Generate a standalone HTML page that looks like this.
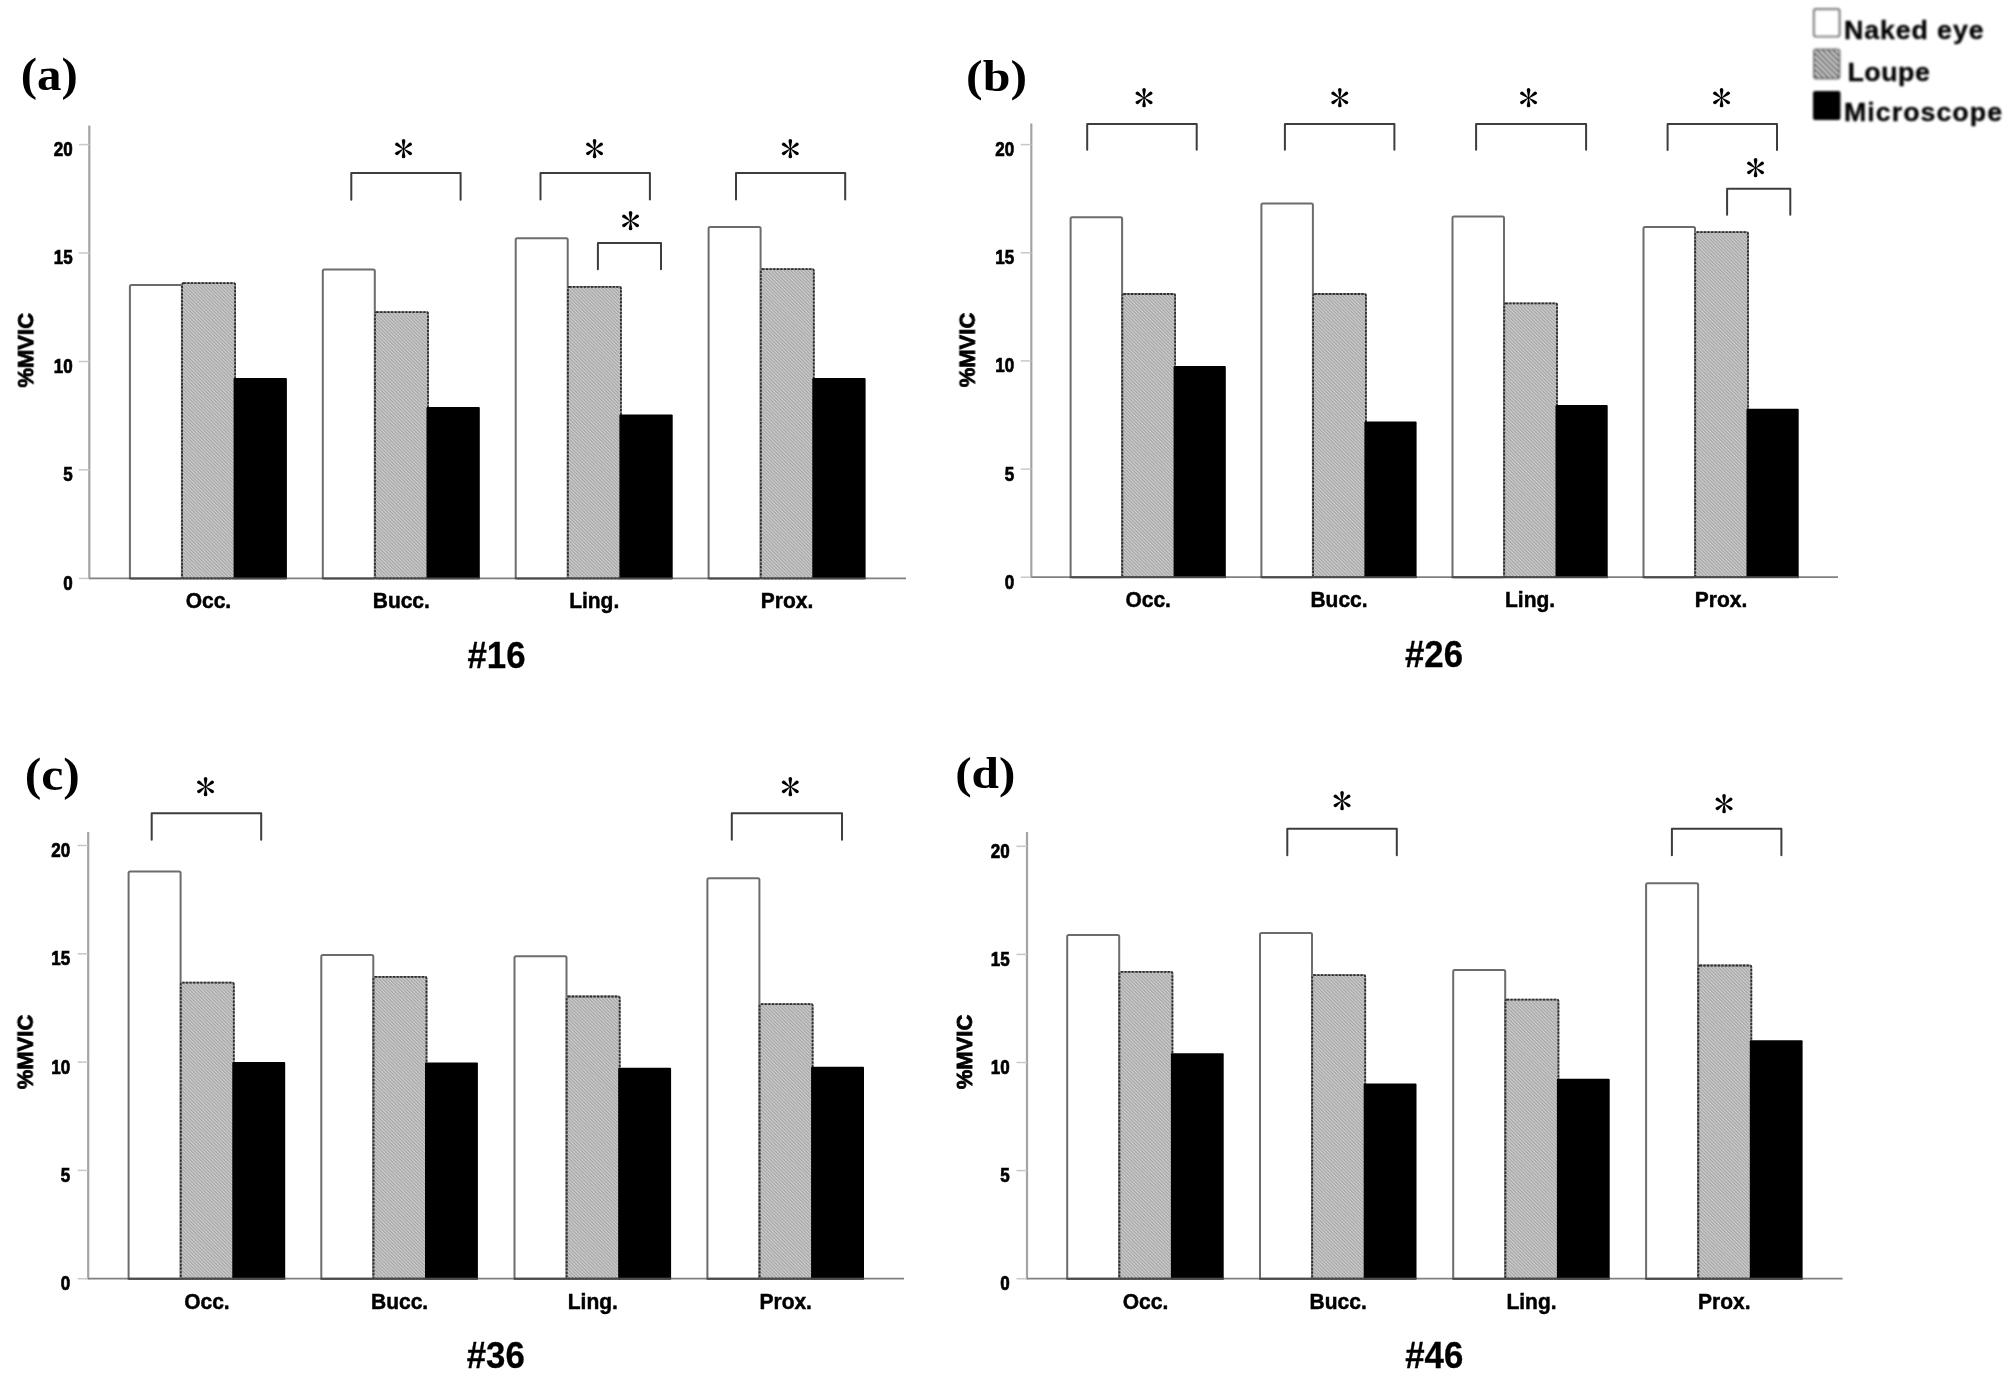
<!DOCTYPE html>
<html lang="en"><head><meta charset="utf-8"><title>%MVIC by magnification</title>
<style>
html,body{margin:0;padding:0;background:#fff;}
body{width:2007px;height:1388px;overflow:hidden;}
svg{display:block;}
.sans{font-family:"Liberation Sans",Arial,Helvetica,sans-serif;font-weight:bold;fill:#000;}
.serif{font-family:"Liberation Serif","Times New Roman",Times,serif;fill:#000;}
.ast{font-family:IPAGothic,"Liberation Serif",serif;fill:#000;}
</style></head><body>
<svg width="2007" height="1388" viewBox="0 0 2007 1388">
<defs>
<filter id="bl" x="-2%" y="-2%" width="104%" height="104%"><feGaussianBlur stdDeviation="0.7"/></filter>
<filter id="blt" x="-2%" y="-2%" width="104%" height="104%"><feGaussianBlur stdDeviation="0.55"/></filter>
<filter id="bl2" x="-5%" y="-5%" width="110%" height="110%"><feGaussianBlur stdDeviation="0.9"/></filter>
<filter id="bl4" x="-10%" y="-10%" width="120%" height="120%"><feGaussianBlur stdDeviation="0.7"/></filter>
<filter id="bl3" x="-10%" y="-10%" width="120%" height="120%"><feGaussianBlur stdDeviation="0.55"/></filter>
<pattern id="hatch" width="2.4" height="2.4" patternUnits="userSpaceOnUse" patternTransform="rotate(45)">
<rect width="2.4" height="2.4" fill="#a8a8a8"/><rect width="2.4" height="1" fill="#d2d2d2"/>
</pattern>
<pattern id="hatchL" width="3.8" height="3.8" patternUnits="userSpaceOnUse" patternTransform="rotate(45)">
<rect width="3.8" height="3.8" fill="#e6e6e6"/><rect width="3.8" height="1.8" fill="#303030"/>
</pattern>
</defs>
<rect width="2007" height="1388" fill="#fff"/>

<g filter="url(#bl)">
<line x1="89.3" y1="125.5" x2="89.3" y2="579.3" stroke="#a4a4a4" stroke-width="2.2"/>
<line x1="78.8" y1="578.4" x2="89.3" y2="578.4" stroke="#c8c8c8" stroke-width="1.5"/>
<line x1="78.8" y1="469.9" x2="89.3" y2="469.9" stroke="#c8c8c8" stroke-width="1.5"/>
<line x1="78.8" y1="361.5" x2="89.3" y2="361.5" stroke="#c8c8c8" stroke-width="1.5"/>
<line x1="78.8" y1="253.0" x2="89.3" y2="253.0" stroke="#c8c8c8" stroke-width="1.5"/>
<line x1="78.8" y1="144.6" x2="89.3" y2="144.6" stroke="#c8c8c8" stroke-width="1.5"/>
<line x1="89.3" y1="578.4" x2="906.0" y2="578.4" stroke="#808080" stroke-width="1.7"/>
<rect x="129.9" y="285.1" width="52.0" height="293.3" fill="#fff" stroke="#6c6c6c" stroke-width="2" rx="1.5"/>
<rect x="182.1" y="283.1" width="53.0" height="295.3" fill="url(#hatch)" stroke="#8a8a8a" stroke-width="1.8" rx="1.5"/>
<rect x="182.1" y="283.1" width="53.0" height="295.3" fill="none" stroke="#2e2e2e" stroke-width="1.8" stroke-dasharray="2.2 1.4" rx="1.5"/>
<rect x="233.6" y="378.1" width="53.3" height="201.2" fill="#000" rx="1"/>
<rect x="322.8" y="269.5" width="52.0" height="308.9" fill="#fff" stroke="#6c6c6c" stroke-width="2" rx="1.5"/>
<rect x="375.0" y="312.1" width="53.0" height="266.3" fill="url(#hatch)" stroke="#8a8a8a" stroke-width="1.8" rx="1.5"/>
<rect x="375.0" y="312.1" width="53.0" height="266.3" fill="none" stroke="#2e2e2e" stroke-width="1.8" stroke-dasharray="2.2 1.4" rx="1.5"/>
<rect x="426.5" y="406.9" width="53.3" height="172.4" fill="#000" rx="1"/>
<rect x="515.7" y="238.3" width="52.0" height="340.1" fill="#fff" stroke="#6c6c6c" stroke-width="2" rx="1.5"/>
<rect x="567.9" y="286.9" width="53.0" height="291.5" fill="url(#hatch)" stroke="#8a8a8a" stroke-width="1.8" rx="1.5"/>
<rect x="567.9" y="286.9" width="53.0" height="291.5" fill="none" stroke="#2e2e2e" stroke-width="1.8" stroke-dasharray="2.2 1.4" rx="1.5"/>
<rect x="619.4" y="414.4" width="53.3" height="164.9" fill="#000" rx="1"/>
<rect x="708.6" y="227.1" width="52.0" height="351.3" fill="#fff" stroke="#6c6c6c" stroke-width="2" rx="1.5"/>
<rect x="760.8" y="269.2" width="53.0" height="309.2" fill="url(#hatch)" stroke="#8a8a8a" stroke-width="1.8" rx="1.5"/>
<rect x="760.8" y="269.2" width="53.0" height="309.2" fill="none" stroke="#2e2e2e" stroke-width="1.8" stroke-dasharray="2.2 1.4" rx="1.5"/>
<rect x="812.3" y="378.0" width="53.3" height="201.3" fill="#000" rx="1"/>
<line x1="129.0" y1="578.4" x2="286.9" y2="578.4" stroke="#4a4a4a" stroke-width="1.9"/>
<line x1="321.9" y1="578.4" x2="479.8" y2="578.4" stroke="#4a4a4a" stroke-width="1.9"/>
<line x1="514.8" y1="578.4" x2="672.7" y2="578.4" stroke="#4a4a4a" stroke-width="1.9"/>
<line x1="707.7" y1="578.4" x2="865.6" y2="578.4" stroke="#4a4a4a" stroke-width="1.9"/>
</g><g filter="url(#blt)">
<text class="sans" transform="translate(72.7,589.8) scale(1,1.17)" font-size="17" text-anchor="end" stroke="#000" stroke-width="0.6">0</text>
<text class="sans" transform="translate(72.7,481.3) scale(1,1.17)" font-size="17" text-anchor="end" stroke="#000" stroke-width="0.6">5</text>
<text class="sans" transform="translate(72.7,372.9) scale(1,1.17)" font-size="17" text-anchor="end" stroke="#000" stroke-width="0.6">10</text>
<text class="sans" transform="translate(72.7,264.4) scale(1,1.17)" font-size="17" text-anchor="end" stroke="#000" stroke-width="0.6">15</text>
<text class="sans" transform="translate(72.7,156.0) scale(1,1.17)" font-size="17" text-anchor="end" stroke="#000" stroke-width="0.6">20</text>
<text class="sans" transform="translate(208.4,608.1) scale(1,1.07)" font-size="21" text-anchor="middle" stroke="#000" stroke-width="0.45">Occ.</text>
<text class="sans" transform="translate(401.3,608.1) scale(1,1.07)" font-size="21" text-anchor="middle" stroke="#000" stroke-width="0.45">Bucc.</text>
<text class="sans" transform="translate(594.2,608.1) scale(1,1.07)" font-size="21" text-anchor="middle" stroke="#000" stroke-width="0.45">Ling.</text>
<text class="sans" transform="translate(787.1,608.1) scale(1,1.07)" font-size="21" text-anchor="middle" stroke="#000" stroke-width="0.45">Prox.</text>
<text class="sans" transform="translate(33.2,350.3) rotate(-90)" font-size="22" text-anchor="middle" stroke="#000" stroke-width="0.8">%MVIC</text>
</g>
<text class="serif" filter="url(#bl3)" transform="translate(20.76,89.76) scale(1.043,1.005)" font-size="47" font-weight="bold">(a)</text>
<text class="sans" filter="url(#bl4)" transform="translate(496.5,668.4) scale(1,1.06)" font-size="34.8" text-anchor="middle" stroke="#000" stroke-width="0.3">#16</text>
<g filter="url(#bl)">
<line x1="1031.3" y1="123.5" x2="1031.3" y2="578.1" stroke="#a4a4a4" stroke-width="2.2"/>
<line x1="1020.8" y1="577.2" x2="1031.3" y2="577.2" stroke="#c8c8c8" stroke-width="1.5"/>
<line x1="1020.8" y1="469.1" x2="1031.3" y2="469.1" stroke="#c8c8c8" stroke-width="1.5"/>
<line x1="1020.8" y1="360.9" x2="1031.3" y2="360.9" stroke="#c8c8c8" stroke-width="1.5"/>
<line x1="1020.8" y1="252.8" x2="1031.3" y2="252.8" stroke="#c8c8c8" stroke-width="1.5"/>
<line x1="1020.8" y1="144.6" x2="1031.3" y2="144.6" stroke="#c8c8c8" stroke-width="1.5"/>
<line x1="1031.3" y1="577.2" x2="1838.0" y2="577.2" stroke="#808080" stroke-width="1.7"/>
<rect x="1070.6" y="217.3" width="51.5" height="359.9" fill="#fff" stroke="#6c6c6c" stroke-width="2" rx="1.5"/>
<rect x="1122.3" y="294.0" width="52.8" height="283.2" fill="url(#hatch)" stroke="#8a8a8a" stroke-width="1.8" rx="1.5"/>
<rect x="1122.3" y="294.0" width="52.8" height="283.2" fill="none" stroke="#2e2e2e" stroke-width="1.8" stroke-dasharray="2.2 1.4" rx="1.5"/>
<rect x="1173.6" y="365.9" width="52.2" height="212.2" fill="#000" rx="1"/>
<rect x="1261.4" y="203.4" width="51.5" height="373.8" fill="#fff" stroke="#6c6c6c" stroke-width="2" rx="1.5"/>
<rect x="1313.1" y="294.0" width="52.8" height="283.2" fill="url(#hatch)" stroke="#8a8a8a" stroke-width="1.8" rx="1.5"/>
<rect x="1313.1" y="294.0" width="52.8" height="283.2" fill="none" stroke="#2e2e2e" stroke-width="1.8" stroke-dasharray="2.2 1.4" rx="1.5"/>
<rect x="1364.4" y="421.4" width="52.2" height="156.7" fill="#000" rx="1"/>
<rect x="1452.5" y="216.5" width="51.5" height="360.7" fill="#fff" stroke="#6c6c6c" stroke-width="2" rx="1.5"/>
<rect x="1504.2" y="303.3" width="52.8" height="273.9" fill="url(#hatch)" stroke="#8a8a8a" stroke-width="1.8" rx="1.5"/>
<rect x="1504.2" y="303.3" width="52.8" height="273.9" fill="none" stroke="#2e2e2e" stroke-width="1.8" stroke-dasharray="2.2 1.4" rx="1.5"/>
<rect x="1555.5" y="405.0" width="52.2" height="173.1" fill="#000" rx="1"/>
<rect x="1643.5" y="227.1" width="51.5" height="350.1" fill="#fff" stroke="#6c6c6c" stroke-width="2" rx="1.5"/>
<rect x="1695.2" y="232.2" width="52.8" height="345.0" fill="url(#hatch)" stroke="#8a8a8a" stroke-width="1.8" rx="1.5"/>
<rect x="1695.2" y="232.2" width="52.8" height="345.0" fill="none" stroke="#2e2e2e" stroke-width="1.8" stroke-dasharray="2.2 1.4" rx="1.5"/>
<rect x="1746.5" y="408.7" width="52.2" height="169.4" fill="#000" rx="1"/>
<line x1="1069.7" y1="577.2" x2="1225.8" y2="577.2" stroke="#4a4a4a" stroke-width="1.9"/>
<line x1="1260.5" y1="577.2" x2="1416.6" y2="577.2" stroke="#4a4a4a" stroke-width="1.9"/>
<line x1="1451.6" y1="577.2" x2="1607.7" y2="577.2" stroke="#4a4a4a" stroke-width="1.9"/>
<line x1="1642.6" y1="577.2" x2="1798.7" y2="577.2" stroke="#4a4a4a" stroke-width="1.9"/>
</g><g filter="url(#blt)">
<text class="sans" transform="translate(1014.2,588.6) scale(1,1.17)" font-size="17" text-anchor="end" stroke="#000" stroke-width="0.6">0</text>
<text class="sans" transform="translate(1014.2,480.5) scale(1,1.17)" font-size="17" text-anchor="end" stroke="#000" stroke-width="0.6">5</text>
<text class="sans" transform="translate(1014.2,372.3) scale(1,1.17)" font-size="17" text-anchor="end" stroke="#000" stroke-width="0.6">10</text>
<text class="sans" transform="translate(1014.2,264.1) scale(1,1.17)" font-size="17" text-anchor="end" stroke="#000" stroke-width="0.6">15</text>
<text class="sans" transform="translate(1014.2,156.0) scale(1,1.17)" font-size="17" text-anchor="end" stroke="#000" stroke-width="0.6">20</text>
<text class="sans" transform="translate(1148.2,606.9) scale(1,1.07)" font-size="21" text-anchor="middle" stroke="#000" stroke-width="0.45">Occ.</text>
<text class="sans" transform="translate(1339.0,606.9) scale(1,1.07)" font-size="21" text-anchor="middle" stroke="#000" stroke-width="0.45">Bucc.</text>
<text class="sans" transform="translate(1530.1,606.9) scale(1,1.07)" font-size="21" text-anchor="middle" stroke="#000" stroke-width="0.45">Ling.</text>
<text class="sans" transform="translate(1721.1,606.9) scale(1,1.07)" font-size="21" text-anchor="middle" stroke="#000" stroke-width="0.45">Prox.</text>
<text class="sans" transform="translate(974.7,350) rotate(-90)" font-size="22" text-anchor="middle" stroke="#000" stroke-width="0.8">%MVIC</text>
</g>
<text class="serif" filter="url(#bl3)" transform="translate(966.1,91.16) scale(1.06,0.955)" font-size="47" font-weight="bold">(b)</text>
<text class="sans" filter="url(#bl4)" transform="translate(1434.0,666.9) scale(1,1.06)" font-size="34.8" text-anchor="middle" stroke="#000" stroke-width="0.3">#26</text>
<g filter="url(#bl)">
<line x1="88.2" y1="832.0" x2="88.2" y2="1279.6000000000001" stroke="#a4a4a4" stroke-width="2.2"/>
<line x1="77.7" y1="1278.7" x2="88.2" y2="1278.7" stroke="#c8c8c8" stroke-width="1.5"/>
<line x1="77.7" y1="1170.4" x2="88.2" y2="1170.4" stroke="#c8c8c8" stroke-width="1.5"/>
<line x1="77.7" y1="1062.1" x2="88.2" y2="1062.1" stroke="#c8c8c8" stroke-width="1.5"/>
<line x1="77.7" y1="953.8" x2="88.2" y2="953.8" stroke="#c8c8c8" stroke-width="1.5"/>
<line x1="77.7" y1="845.5" x2="88.2" y2="845.5" stroke="#c8c8c8" stroke-width="1.5"/>
<line x1="88.2" y1="1278.7" x2="904.0" y2="1278.7" stroke="#808080" stroke-width="1.7"/>
<rect x="128.6" y="871.6" width="52.0" height="407.1" fill="#fff" stroke="#6c6c6c" stroke-width="2" rx="1.5"/>
<rect x="180.8" y="982.7" width="53.0" height="296.0" fill="url(#hatch)" stroke="#8a8a8a" stroke-width="1.8" rx="1.5"/>
<rect x="180.8" y="982.7" width="53.0" height="296.0" fill="none" stroke="#2e2e2e" stroke-width="1.8" stroke-dasharray="2.2 1.4" rx="1.5"/>
<rect x="232.3" y="1062.1" width="52.9" height="217.5" fill="#000" rx="1"/>
<rect x="321.3" y="955.1" width="52.0" height="323.6" fill="#fff" stroke="#6c6c6c" stroke-width="2" rx="1.5"/>
<rect x="373.5" y="976.9" width="53.0" height="301.8" fill="url(#hatch)" stroke="#8a8a8a" stroke-width="1.8" rx="1.5"/>
<rect x="373.5" y="976.9" width="53.0" height="301.8" fill="none" stroke="#2e2e2e" stroke-width="1.8" stroke-dasharray="2.2 1.4" rx="1.5"/>
<rect x="425.0" y="1062.6" width="52.9" height="217.0" fill="#000" rx="1"/>
<rect x="514.5" y="956.3" width="52.0" height="322.4" fill="#fff" stroke="#6c6c6c" stroke-width="2" rx="1.5"/>
<rect x="566.7" y="996.5" width="53.0" height="282.2" fill="url(#hatch)" stroke="#8a8a8a" stroke-width="1.8" rx="1.5"/>
<rect x="566.7" y="996.5" width="53.0" height="282.2" fill="none" stroke="#2e2e2e" stroke-width="1.8" stroke-dasharray="2.2 1.4" rx="1.5"/>
<rect x="618.2" y="1067.7" width="52.9" height="211.9" fill="#000" rx="1"/>
<rect x="707.4" y="878.2" width="52.0" height="400.5" fill="#fff" stroke="#6c6c6c" stroke-width="2" rx="1.5"/>
<rect x="759.6" y="1004.1" width="53.0" height="274.6" fill="url(#hatch)" stroke="#8a8a8a" stroke-width="1.8" rx="1.5"/>
<rect x="759.6" y="1004.1" width="53.0" height="274.6" fill="none" stroke="#2e2e2e" stroke-width="1.8" stroke-dasharray="2.2 1.4" rx="1.5"/>
<rect x="811.1" y="1066.7" width="52.9" height="212.9" fill="#000" rx="1"/>
<line x1="127.7" y1="1278.7" x2="285.2" y2="1278.7" stroke="#4a4a4a" stroke-width="1.9"/>
<line x1="320.4" y1="1278.7" x2="477.9" y2="1278.7" stroke="#4a4a4a" stroke-width="1.9"/>
<line x1="513.6" y1="1278.7" x2="671.1" y2="1278.7" stroke="#4a4a4a" stroke-width="1.9"/>
<line x1="706.5" y1="1278.7" x2="864.0" y2="1278.7" stroke="#4a4a4a" stroke-width="1.9"/>
</g><g filter="url(#blt)">
<text class="sans" transform="translate(70.2,1290.1) scale(1,1.17)" font-size="17" text-anchor="end" stroke="#000" stroke-width="0.6">0</text>
<text class="sans" transform="translate(70.2,1181.8) scale(1,1.17)" font-size="17" text-anchor="end" stroke="#000" stroke-width="0.6">5</text>
<text class="sans" transform="translate(70.2,1073.5) scale(1,1.17)" font-size="17" text-anchor="end" stroke="#000" stroke-width="0.6">10</text>
<text class="sans" transform="translate(70.2,965.2) scale(1,1.17)" font-size="17" text-anchor="end" stroke="#000" stroke-width="0.6">15</text>
<text class="sans" transform="translate(70.2,856.9) scale(1,1.17)" font-size="17" text-anchor="end" stroke="#000" stroke-width="0.6">20</text>
<text class="sans" transform="translate(206.9,1308.9) scale(1,1.07)" font-size="21" text-anchor="middle" stroke="#000" stroke-width="0.45">Occ.</text>
<text class="sans" transform="translate(399.6,1308.9) scale(1,1.07)" font-size="21" text-anchor="middle" stroke="#000" stroke-width="0.45">Bucc.</text>
<text class="sans" transform="translate(592.8,1308.9) scale(1,1.07)" font-size="21" text-anchor="middle" stroke="#000" stroke-width="0.45">Ling.</text>
<text class="sans" transform="translate(785.7,1308.9) scale(1,1.07)" font-size="21" text-anchor="middle" stroke="#000" stroke-width="0.45">Prox.</text>
<text class="sans" transform="translate(32.7,1052) rotate(-90)" font-size="22" text-anchor="middle" stroke="#000" stroke-width="0.8">%MVIC</text>
</g>
<text class="serif" filter="url(#bl3)" transform="translate(24.64,789.76) scale(1.058,1.005)" font-size="47" font-weight="bold">(c)</text>
<text class="sans" filter="url(#bl4)" transform="translate(495.8,1368.0) scale(1,1.06)" font-size="34.8" text-anchor="middle" stroke="#000" stroke-width="0.3">#36</text>
<g filter="url(#bl)">
<line x1="1027.0" y1="832.0" x2="1027.0" y2="1279.6000000000001" stroke="#a4a4a4" stroke-width="2.2"/>
<line x1="1016.5" y1="1278.7" x2="1027.0" y2="1278.7" stroke="#c8c8c8" stroke-width="1.5"/>
<line x1="1016.5" y1="1170.6" x2="1027.0" y2="1170.6" stroke="#c8c8c8" stroke-width="1.5"/>
<line x1="1016.5" y1="1062.5" x2="1027.0" y2="1062.5" stroke="#c8c8c8" stroke-width="1.5"/>
<line x1="1016.5" y1="954.4" x2="1027.0" y2="954.4" stroke="#c8c8c8" stroke-width="1.5"/>
<line x1="1016.5" y1="846.3" x2="1027.0" y2="846.3" stroke="#c8c8c8" stroke-width="1.5"/>
<line x1="1027.0" y1="1278.7" x2="1842.6" y2="1278.7" stroke="#808080" stroke-width="1.7"/>
<rect x="1067.2" y="934.9" width="52.0" height="343.8" fill="#fff" stroke="#6c6c6c" stroke-width="2" rx="1.5"/>
<rect x="1119.4" y="971.8" width="53.0" height="306.9" fill="url(#hatch)" stroke="#8a8a8a" stroke-width="1.8" rx="1.5"/>
<rect x="1119.4" y="971.8" width="53.0" height="306.9" fill="none" stroke="#2e2e2e" stroke-width="1.8" stroke-dasharray="2.2 1.4" rx="1.5"/>
<rect x="1170.9" y="1053.3" width="52.8" height="226.3" fill="#000" rx="1"/>
<rect x="1260.0" y="932.9" width="52.0" height="345.8" fill="#fff" stroke="#6c6c6c" stroke-width="2" rx="1.5"/>
<rect x="1312.2" y="975.1" width="53.0" height="303.6" fill="url(#hatch)" stroke="#8a8a8a" stroke-width="1.8" rx="1.5"/>
<rect x="1312.2" y="975.1" width="53.0" height="303.6" fill="none" stroke="#2e2e2e" stroke-width="1.8" stroke-dasharray="2.2 1.4" rx="1.5"/>
<rect x="1363.7" y="1083.6" width="52.8" height="196.0" fill="#000" rx="1"/>
<rect x="1453.2" y="970.0" width="52.0" height="308.7" fill="#fff" stroke="#6c6c6c" stroke-width="2" rx="1.5"/>
<rect x="1505.4" y="999.6" width="53.0" height="279.1" fill="url(#hatch)" stroke="#8a8a8a" stroke-width="1.8" rx="1.5"/>
<rect x="1505.4" y="999.6" width="53.0" height="279.1" fill="none" stroke="#2e2e2e" stroke-width="1.8" stroke-dasharray="2.2 1.4" rx="1.5"/>
<rect x="1556.9" y="1078.7" width="52.8" height="200.9" fill="#000" rx="1"/>
<rect x="1646.1" y="883.2" width="52.0" height="395.5" fill="#fff" stroke="#6c6c6c" stroke-width="2" rx="1.5"/>
<rect x="1698.3" y="965.5" width="53.0" height="313.2" fill="url(#hatch)" stroke="#8a8a8a" stroke-width="1.8" rx="1.5"/>
<rect x="1698.3" y="965.5" width="53.0" height="313.2" fill="none" stroke="#2e2e2e" stroke-width="1.8" stroke-dasharray="2.2 1.4" rx="1.5"/>
<rect x="1749.8" y="1040.2" width="52.8" height="239.4" fill="#000" rx="1"/>
<line x1="1066.3" y1="1278.7" x2="1223.7" y2="1278.7" stroke="#4a4a4a" stroke-width="1.9"/>
<line x1="1259.1" y1="1278.7" x2="1416.5" y2="1278.7" stroke="#4a4a4a" stroke-width="1.9"/>
<line x1="1452.3" y1="1278.7" x2="1609.7" y2="1278.7" stroke="#4a4a4a" stroke-width="1.9"/>
<line x1="1645.2" y1="1278.7" x2="1802.6" y2="1278.7" stroke="#4a4a4a" stroke-width="1.9"/>
</g><g filter="url(#blt)">
<text class="sans" transform="translate(1009.6,1290.1) scale(1,1.17)" font-size="17" text-anchor="end" stroke="#000" stroke-width="0.6">0</text>
<text class="sans" transform="translate(1009.6,1182.0) scale(1,1.17)" font-size="17" text-anchor="end" stroke="#000" stroke-width="0.6">5</text>
<text class="sans" transform="translate(1009.6,1073.9) scale(1,1.17)" font-size="17" text-anchor="end" stroke="#000" stroke-width="0.6">10</text>
<text class="sans" transform="translate(1009.6,965.8) scale(1,1.17)" font-size="17" text-anchor="end" stroke="#000" stroke-width="0.6">15</text>
<text class="sans" transform="translate(1009.6,857.7) scale(1,1.17)" font-size="17" text-anchor="end" stroke="#000" stroke-width="0.6">20</text>
<text class="sans" transform="translate(1145.5,1308.9) scale(1,1.07)" font-size="21" text-anchor="middle" stroke="#000" stroke-width="0.45">Occ.</text>
<text class="sans" transform="translate(1338.2,1308.9) scale(1,1.07)" font-size="21" text-anchor="middle" stroke="#000" stroke-width="0.45">Bucc.</text>
<text class="sans" transform="translate(1531.5,1308.9) scale(1,1.07)" font-size="21" text-anchor="middle" stroke="#000" stroke-width="0.45">Ling.</text>
<text class="sans" transform="translate(1724.3,1308.9) scale(1,1.07)" font-size="21" text-anchor="middle" stroke="#000" stroke-width="0.45">Prox.</text>
<text class="sans" transform="translate(972.0,1052) rotate(-90)" font-size="22" text-anchor="middle" stroke="#000" stroke-width="0.8">%MVIC</text>
</g>
<text class="serif" filter="url(#bl3)" transform="translate(955.2,788.4) scale(1.049,0.962)" font-size="47" font-weight="bold">(d)</text>
<text class="sans" filter="url(#bl4)" transform="translate(1434.3,1368.0) scale(1,1.06)" font-size="34.8" text-anchor="middle" stroke="#000" stroke-width="0.3">#46</text>
<g fill="none" stroke="#3c3c3c" stroke-width="2" stroke-linejoin="round" stroke-linecap="round" filter="url(#bl3)">
<path d="M351.3 199.8V172.9H460.6V199.8"/>
<path d="M540.5 199.6V173.1H649.9V199.6"/>
<path d="M597.9 269.2V242.9H661.0V269.2"/>
<path d="M736.0 199.6V173.1H845.2V199.6"/>
<path d="M1087.2 149.8V123.9H1196.7V149.8"/>
<path d="M1284.9 149.8V123.9H1394.4V149.8"/>
<path d="M1476.1 149.8V123.9H1586.1V149.8"/>
<path d="M1667.6 149.9V123.9H1777.0V149.9"/>
<path d="M1727.1 214.7V188.7H1790.3V214.7"/>
<path d="M151.7 839.7V813.2H261.2V839.7"/>
<path d="M731.8 839.7V813.2H842.0V839.7"/>
<path d="M1287.3 855.3V828.7H1396.8V855.3"/>
<path d="M1671.9 855.3V828.7H1781.4V855.3"/>
</g>
<g filter="url(#bl3)">
<text class="ast" transform="translate(393.42,163.00) scale(1.05,1)" font-size="38.4">*</text>
<text class="ast" transform="translate(584.52,163.10) scale(1.05,1)" font-size="38.4">*</text>
<text class="ast" transform="translate(620.62,235.30) scale(1.05,1)" font-size="38.4">*</text>
<text class="ast" transform="translate(780.32,163.10) scale(1.05,1)" font-size="38.4">*</text>
<text class="ast" transform="translate(1134.02,111.80) scale(1.05,1)" font-size="38.4">*</text>
<text class="ast" transform="translate(1329.82,111.80) scale(1.05,1)" font-size="38.4">*</text>
<text class="ast" transform="translate(1518.52,111.80) scale(1.05,1)" font-size="38.4">*</text>
<text class="ast" transform="translate(1711.62,111.80) scale(1.05,1)" font-size="38.4">*</text>
<text class="ast" transform="translate(1745.62,181.80) scale(1.05,1)" font-size="38.4">*</text>
<text class="ast" transform="translate(195.42,801.10) scale(1.05,1)" font-size="38.4">*</text>
<text class="ast" transform="translate(780.22,801.10) scale(1.05,1)" font-size="38.4">*</text>
<text class="ast" transform="translate(1331.92,815.10) scale(1.05,1)" font-size="38.4">*</text>
<text class="ast" transform="translate(1714.02,817.50) scale(1.05,1)" font-size="38.4">*</text>
</g>
<g filter="url(#bl2)">
<rect x="1814" y="9.2" width="25.5" height="27.3" fill="#fff" stroke="#7a7a7a" stroke-width="2.2" rx="2"/>
<rect x="1814" y="49.6" width="25.5" height="28.8" fill="url(#hatchL)" stroke="#7a7a7a" stroke-width="2" rx="2"/>
<rect x="1813" y="91" width="27.5" height="29" fill="#000" rx="2"/>
<g class="sans" font-size="25.5" stroke="#000" stroke-width="0.3">
<text transform="translate(1844,39.2) scale(1.05,1)" textLength="132.9" lengthAdjust="spacing">Naked eye</text>
<text transform="translate(1847.4,80.7) scale(1.05,1)" textLength="78.6" lengthAdjust="spacing">Loupe</text>
<text transform="translate(1844,121) scale(1.05,1)" textLength="150.5" lengthAdjust="spacing">Microscope</text>
</g></g>
</svg></body></html>
